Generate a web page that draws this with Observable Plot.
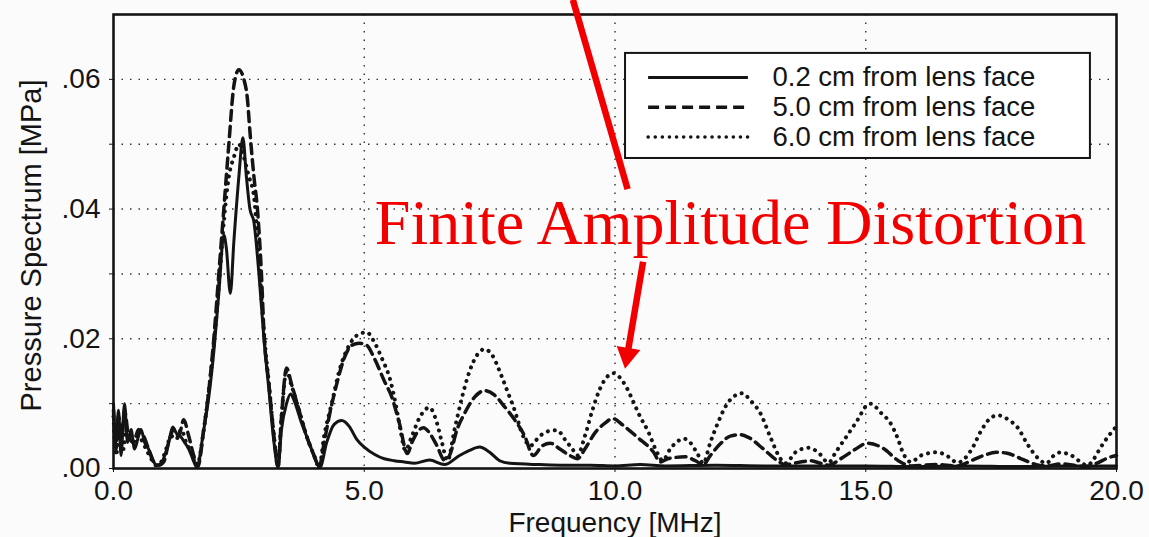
<!DOCTYPE html>
<html><head><meta charset="utf-8">
<script src="https://cdn.jsdelivr.net/npm/d3@7"></script>
<script src="https://cdn.jsdelivr.net/npm/@observablehq/plot@0.6"></script>
<style>body{margin:0;background:#fbfbfb} svg{display:block}</style>
</head><body><div id="chart"></div>
<script>
// ---- data ----
const seriesNames = ["0.2 cm from lens face", "5.0 cm from lens face", "6.0 cm from lens face"];
const xTicks = [0, 5, 10, 15, 20];
const yTicks = [0, 0.01, 0.02, 0.03, 0.04, 0.05, 0.06];
const yTickLabels = [".00", "", ".02", "", ".04", "", ".06"];
const xLabel = "Frequency [MHz]";
const yLabel = "Pressure Spectrum [MPa]";
const annotationText = "Finite Amplitude Distortion";

// [frequency MHz, pressure MPa]
const spectrum02 = [[0,.010],[.05,.004],[.1,.009],[.15,.002],[.22,.010],[.28,.004],[.35,.006],[.42,.003],[.5,.005],[.55,.006],[.62,.004],[.7,.003],[.78,.0015],[.85,.0005],[.95,.0008],[1.02,.002],[1.1,.004],[1.18,.0064],[1.25,.0055],[1.33,.005],[1.42,.004],[1.5,.003],[1.58,.0015],[1.66,.0002],[1.8,.006],[1.9,.011],[2.0,.018],[2.1,.027],[2.2,.036],[2.25,.034],[2.33,.027],[2.4,.035],[2.5,.045],[2.58,.051],[2.65,.045],[2.72,.040],[2.8,.038],[2.9,.030],[3.0,.020],[3.1,.012],[3.2,.004],[3.28,.0002],[3.35,.006],[3.45,.010],[3.53,.0115],[3.6,.0105],[3.75,.007],[3.9,.004],[4.05,.001],[4.12,.0002],[4.25,.004],[4.4,.0068],[4.55,.0074],[4.7,.0065],[4.85,.0045],[5.0,.0033],[5.2,.0022],[5.4,.0015],[5.6,.0012],[5.8,.001],[6.0,.0008],[6.3,.0013],[6.6,.0006],[6.9,.002],[7.1,.0028],[7.3,.0033],[7.5,.0025],[7.7,.0012],[7.9,.0008],[8.5,.0006],[9,.0005],[9.5,.0005],[10,.0004],[10.5,.0006],[11,.0004],[12,.0005],[13,.0004],[14,.0004],[15,.0004],[16,.0003],[17,.0004],[18,.0003],[19,.0004],[20,.0004]];
const spectrum50 = [[0,.009],[.05,.003],[.1,.008],[.17,.005],[.22,.009],[.3,.005],[.4,.004],[.5,.006],[.6,.005],[.7,.003],[.8,.001],[.9,.0005],[1.0,.001],[1.1,.004],[1.2,.006],[1.3,.005],[1.4,.0075],[1.5,.005],[1.6,.002],[1.68,.0003],[1.8,.006],[1.9,.012],[2.0,.020],[2.1,.030],[2.2,.040],[2.3,.050],[2.4,.059],[2.5,.0615],[2.6,.060],[2.67,.057],[2.72,.052],[2.8,.045],[2.87,.040],[2.95,.030],[3.0,.021],[3.1,.013],[3.2,.005],[3.28,.0003],[3.35,.008],[3.45,.0155],[3.55,.013],[3.7,.009],[3.85,.005],[4.0,.002],[4.1,.0002],[4.2,.004],[4.3,.008],[4.45,.013],[4.6,.017],[4.75,.019],[4.9,.0193],[5.05,.019],[5.2,.017],[5.4,.0135],[5.55,.011],[5.7,.007],[5.86,.0023],[5.95,.004],[6.05,.0055],[6.18,.0063],[6.3,.0055],[6.45,.0035],[6.6,.0013],[6.7,.002],[6.85,.006],[7.0,.0085],[7.2,.011],[7.4,.012],[7.6,.0113],[7.8,.0095],[8.0,.0075],[8.2,.005],[8.37,.002],[8.55,.0035],[8.71,.0039],[8.9,.003],[9.1,.002],[9.25,.0015],[9.4,.003],[9.6,.0055],[9.8,.007],[9.95,.0077],[10.17,.0066],[10.45,.0048],[10.77,.0025],[10.9,.001],[11.05,.0015],[11.2,.0017],[11.4,.0018],[11.6,.0012],[11.76,.0006],[11.9,.002],[12.1,.0038],[12.3,.005],[12.5,.0052],[12.66,.0048],[12.96,.003],[13.24,.0012],[13.4,.0006],[13.7,.001],[13.9,.0012],[14.1,.0008],[14.26,.0005],[14.5,.0015],[14.8,.003],[15.03,.0039],[15.35,.0031],[15.65,.0012],[15.9,.0004],[16.4,.0006],[16.83,.0004],[17.1,.0012],[17.35,.002],[17.6,.0025],[17.8,.0024],[18.1,.0015],[18.4,.0006],[18.6,.0004],[18.9,.0007],[19.4,.0003],[19.6,.0008],[19.85,.0017],[20,.002]];
const spectrum60 = [[0,.008],[.05,.002],[.12,.006],[.2,.003],[.25,.006],[.35,.004],[.45,.005],[.55,.0045],[.65,.003],[.75,.0015],[.85,.0005],[.95,.001],[1.05,.003],[1.15,.005],[1.25,.0045],[1.35,.006],[1.45,.004],[1.55,.0025],[1.66,.0004],[1.8,.006],[1.9,.012],[2.0,.019],[2.1,.028],[2.2,.038],[2.3,.045],[2.4,.048],[2.5,.050],[2.6,.048],[2.7,.045],[2.8,.042],[2.9,.032],[3.0,.021],[3.1,.013],[3.2,.005],[3.28,.0003],[3.35,.008],[3.45,.015],[3.55,.0128],[3.7,.009],[3.85,.005],[4.0,.002],[4.1,.0002],[4.2,.005],[4.35,.010],[4.5,.015],[4.7,.019],[4.85,.0205],[5.05,.021],[5.2,.0195],[5.35,.017],[5.52,.0136],[5.65,.009],[5.72,.006],[5.82,.0028],[5.95,.005],[6.1,.0078],[6.3,.0094],[6.45,.007],[6.55,.004],[6.66,.0012],[6.8,.006],[6.95,.011],[7.1,.015],[7.25,.0175],[7.4,.0184],[7.55,.0175],[7.72,.0146],[7.85,.012],[7.98,.0094],[8.18,.0048],[8.31,.0035],[8.5,.005],[8.7,.0058],[8.85,.0059],[9.0,.0045],[9.15,.003],[9.25,.002],[9.4,.005],[9.55,.009],[9.7,.0123],[9.85,.0142],[9.97,.0147],[10.1,.014],[10.25,.0122],[10.37,.0102],[10.5,.008],[10.65,.0059],[10.85,.0023],[10.95,.0012],[11.1,.003],[11.25,.0042],[11.37,.0046],[11.5,.004],[11.65,.0022],[11.76,.0008],[11.9,.004],[12.05,.007],[12.2,.0095],[12.35,.011],[12.54,.0116],[12.7,.0105],[12.9,.0085],[13.1,.0048],[13.3,.0015],[13.4,.0008],[13.6,.0025],[13.86,.0032],[14.05,.0025],[14.26,.0009],[14.4,.0025],[14.56,.0043],[14.83,.0074],[15.03,.0098],[15.1,.010],[15.3,.0086],[15.5,.0069],[15.63,.0048],[15.75,.0023],[15.9,.001],[16.1,.002],[16.43,.0025],[16.65,.0018],[16.83,.0009],[17.1,.0028],[17.3,.0058],[17.45,.0075],[17.63,.0082],[17.85,.0075],[18.03,.0063],[18.22,.0038],[18.42,.0017],[18.6,.0008],[18.75,.002],[18.89,.0025],[19.1,.002],[19.42,.0005],[19.55,.0015],[19.68,.0032],[19.88,.0054],[20,.0065]];

// annotation arrows, in data units (MHz, MPa)
const arrowFrom = [[9.17, 0.0722], [10.57, 0.0318]];
const arrowTo = [[10.25, 0.0433], [10.21, 0.0153]];
const arrowHasHead = [false, true];

// ---- chart ----
const INK = "#141414";
const RED = "#f20000";
const dashes = ["none", "10,6", "0.1,7"];
const legendDashes = ["none", "11,6", "0.1,7"];
const widths = [3, 3.5, 4];
const legendRowsY = [0.0603, 0.0557, 0.0511];
const labelMap = new Map(yTicks.map((t, i) => [Math.round(t * 100), yTickLabels[i]]));

function redArrows(index, scales) {
  const g = d3.create("svg:g");
  arrowFrom.forEach((a, i) => {
    const x1 = scales.x(a[0]), y1 = scales.y(a[1]);
    const x2 = scales.x(arrowTo[i][0]), y2 = scales.y(arrowTo[i][1]);
    const dx = x2 - x1, dy = y2 - y1, len = Math.hypot(dx, dy);
    const ux = dx / len, uy = dy / len, nx = -uy, ny = ux;
    const L = arrowHasHead[i] ? 21 : 0, W = 12;
    const bx = x2 - ux * L, by = y2 - uy * L;
    g.append("line").attr("x1", x1).attr("y1", y1).attr("x2", bx + ux * 2).attr("y2", by + uy * 2)
      .attr("stroke", RED).attr("stroke-width", 6.5);
    if (arrowHasHead[i]) {
      g.append("path").attr("fill", RED)
        .attr("d", `M${x2},${y2}L${bx + nx * W},${by + ny * W}L${bx - nx * W},${by - ny * W}Z`);
    }
  });
  return g.node();
}

const seriesData = [spectrum02, spectrum50, spectrum60];
const lineMarks = [2, 1, 0].map(i => Plot.line(seriesData[i], {
  x: d => d[0], y: d => d[1], stroke: INK, strokeWidth: widths[i],
  strokeDasharray: dashes[i], strokeLinecap: "round", strokeLinejoin: "round", curve: "monotone-x"
}));

const chart = Plot.plot({
  width: 1149, height: 537,
  marginLeft: 113, marginRight: 33, marginTop: 14, marginBottom: 69,
  style: {background: "#fbfbfb", fontFamily: "'Liberation Sans', Arial, sans-serif", color: INK, overflow: "visible"},
  x: {domain: [0, 20]},
  y: {domain: [0, 0.07]},
  marks: [
    Plot.ruleY(yTicks.filter(t => t > 0), {stroke: "#333", strokeWidth: 1.4, strokeDasharray: "1.5,7"}),
    Plot.ruleX(xTicks.filter(t => t > 0 && t < 20), {stroke: "#333", strokeWidth: 1.4, strokeDasharray: "1.5,7"}),
    ...lineMarks,
    // legend
    Plot.rect([0], {x1: 10.21, x2: 19.48, y1: 0.0478, y2: 0.0640, fill: "white", stroke: INK, strokeWidth: 2}),
    ...[0, 1, 2].map(i => Plot.ruleY([legendRowsY[i]], {x1: 10.67, x2: 12.66, stroke: INK, strokeWidth: i === 0 ? 3 : 3.5, strokeDasharray: legendDashes[i], strokeLinecap: i === 2 ? "round" : "butt"})),
    Plot.text(seriesNames, {x: 13.14, y: (d, i) => legendRowsY[i], text: d => d, textAnchor: "start", lineAnchor: "middle", fontSize: 27.5, fill: INK}),
    Plot.frame({stroke: INK, strokeWidth: 2.6}),
    Plot.axisX({ticks: xTicks, tickFormat: d => d.toFixed(1), tickSize: 4, tickPadding: 8, fontSize: 28, label: null}),
    Plot.axisY({ticks: yTicks, tickFormat: d => labelMap.get(Math.round(d * 100)), tickSize: 4, tickPadding: 9, fontSize: 28, label: null}),
    Plot.text([xLabel], {frameAnchor: "bottom", dy: 63, lineAnchor: "bottom", textAnchor: "middle", fontSize: 28, fill: INK}),
    Plot.text([yLabel], {frameAnchor: "left", dx: -82, dy: 4, rotate: -90, textAnchor: "middle", lineAnchor: "middle", fontSize: 29, fill: INK}),
    Plot.text([annotationText], {x: 12.3, y: 0.03455, lineAnchor: "bottom", textAnchor: "middle", fontSize: 64, fill: RED, fontFamily: "'Liberation Serif', 'Times New Roman', serif"}),
    redArrows
  ]
});
document.getElementById("chart").append(chart);
</script>
</body></html>
